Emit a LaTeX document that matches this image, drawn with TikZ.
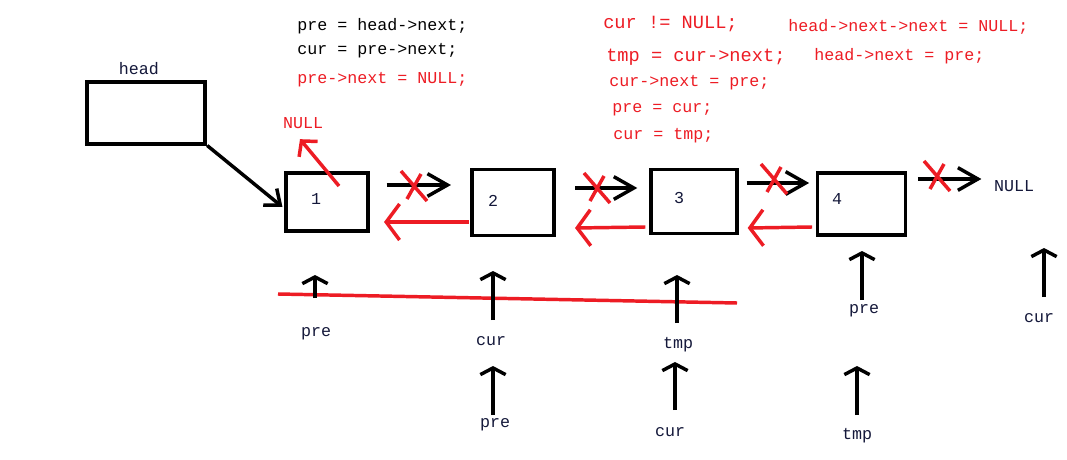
\documentclass[tikz,border=0pt]{standalone}
\usepackage{xcolor}
\definecolor{pred}{HTML}{ED1C24}
\definecolor{ink}{HTML}{14183A}
\usepackage{fontspec}
\setmonofont{Liberation Mono}
\usepackage{tikz}
\usetikzlibrary{arrows.meta}
\usetikzlibrary{calc}

\tikzset{
	box/.style={draw, line width=2.8pt, inner sep=0pt},
	fwd/.style={line width=2.6pt, -{Straight Barb[length=15pt,width=17pt]}},
	back/.style={pred, line width=2.6pt, -{Straight Barb[length=10pt,width=27pt]}},
	ptr/.style={line width=2.6pt, -{Straight Barb[length=5pt,width=19pt]}},
	cross/.style={pred, line width=2.6pt},
	code/.style={anchor=west, inner sep=0pt},
	lbl/.style={inner sep=1pt, text=ink},
	big/.style={font=\ttfamily\fontsize{14}{16}\selectfont}
}

\begin{document}
\begin{tikzpicture}[x=0.75pt, y=-0.75pt, font=\ttfamily\fontsize{12.5}{14}\selectfont]
		\useasboundingbox (0,0) rectangle (1067,460);
		\fill[white] (0,0) rectangle (1067,460);
		% code lines
		\node[code] (c1) at (297,26) {pre = head->next;};
		\node[code] (c2) at (297,51) {cur = pre->next;};
		\node[code, pred] (c3) at (297,80) {pre->next = NULL;};
		\node[code, pred, big] (c4) at (603,24) {cur != NULL;};
		\node[code, pred, big] (c5) at (606,57) {tmp = cur->next;};
		\node[code, pred] (c6) at (609,83) {cur->next = pre;};
		\node[code, pred] (c7) at (612,110) {pre = cur;};
		\node[code, pred] (c8) at (613,136) {cur = tmp;};
		\node[code, pred] (c9) at (788,27) {head->next->next = NULL;};
		\node[code, pred] (c10) at (814,56) {head->next = pre;};
		% list
		\node[box, minimum width=89pt, minimum height=46pt] (head) at (146,113) {};
		\node[lbl] (headl) at (139,69) {head};
		\node[box, minimum width=61pt, minimum height=44pt] (n1) at (327,202) {};
		\node[box, minimum width=61pt, minimum height=49.5pt] (n2) at (513,202.5) {};
		\node[box, minimum width=65pt, minimum height=48pt] (n3) at (694,201.5) {};
		\node[box, minimum width=66pt, minimum height=47pt] (n4) at (861.5,204) {};
		\foreach \n/\x/\y in {1/316/199, 2/493/201, 3/679/198, 4/837/199}
		\node[lbl] (k\n) at (\x,\y) {\n};
		\node[lbl] (nullr) at (1014,186) {NULL};
		\node[lbl, text=pred] (nulll) at (303,123) {NULL};
		
		\draw[line width=2.6pt, -{Straight Barb[length=10pt,width=16pt]}] (head.south east) -- ([shift={(-2,5)}]n1.west);
		\draw[fwd] ([shift={(17,-17)}]n1.east) -- ([shift={(-19.5,-17.5)}]n2.west);
		\draw[fwd] ([shift={(19.5,-14.5)}]n2.east) -- ([shift={(-11.5,-13.5)}]n3.west);
		\draw[fwd] ([shift={(7.5,-18.5)}]n3.east) -- ([shift={(-6.5,-21)}]n4.west);
		\draw[fwd] ([shift={(10.5,-25)}]n4.east) -- ([shift={(-11,-7)}]nullr.west);
		
		\draw[back] ([shift={(-1.5,19.5)}]n2.west) -- ([shift={(14.5,20)}]n1.east);
		\draw[back] ([shift={(-3.5,25.5)}]n3.west) -- ([shift={(19.5,25.5)}]n2.east);
		\draw[back] ([shift={(-3.5,23)}]n4.west) -- ([shift={(8.5,26.5)}]n3.east);
		\draw[pred, line width=2.6pt, -{Straight Barb[length=8pt,width=18pt]}] ([shift={(12,-16)}]n1.center) -- ([shift={(-3,9)}]nulll.south);
		
		\foreach \x/\y in {414/186, 597/188, 774/179, 937/176}
		\draw[cross] (\x-13,\y-15) -- (\x+13,\y+15) (\x+7,\y-12) -- (\x-7,\y+13);
		\draw[cross] (278,294) -- (737,303);
		
		% pointers
		\foreach \nm/\x/\y/\ax/\yb/\yt/\txt in {p1/316/334/315/298/275/pre, p2/491/341/493/320/271/cur, p3/495/425/493/415/366/pre, p4/678/345/677/323/275/tmp, p5/670/432/675/410/362/cur, p6/864/311/862/300/251/pre, p7/857/436/857/415/366/tmp, p8/1039/318/1044/297/248/cur}
		{
			\node[lbl] (\nm) at (\x,\y) {\txt};
			\coordinate (\nm-a) at (\ax,\yb);
			\coordinate (\nm-b) at (\ax,\yt);
			\draw[ptr] (\nm-a) -- (\nm-b);
		}
		\end{tikzpicture}
\end{document}
